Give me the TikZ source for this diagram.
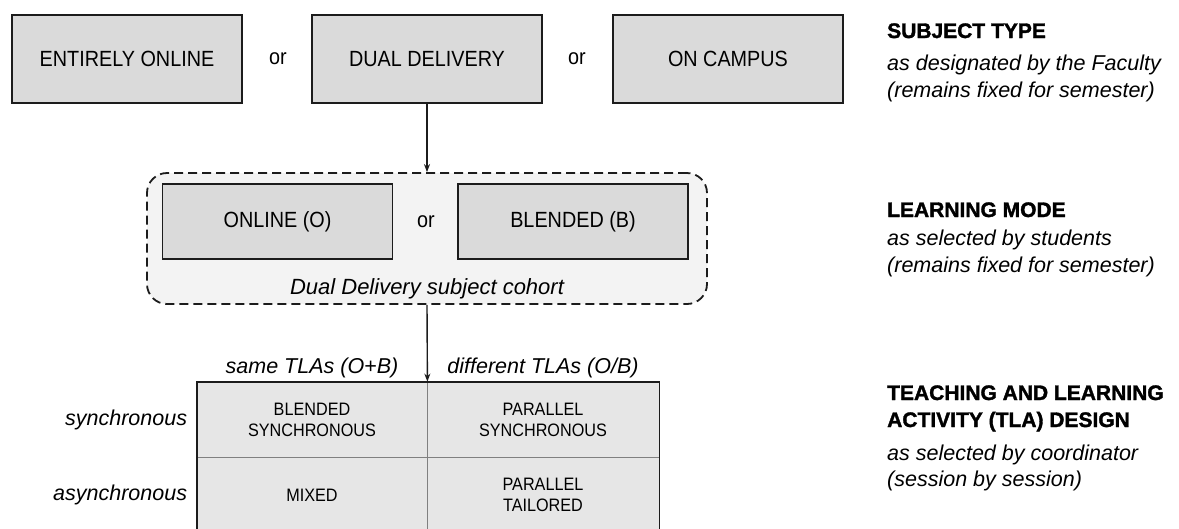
\documentclass[tikz,border=0pt]{standalone}
\usepackage{fontspec}
\setmainfont{Liberation Sans}
\newfontfamily\narrowfont{Liberation Sans}[FakeStretch=0.9]
\newfontfamily\headfont{Liberation Sans}[BoldFeatures={FakeBold=1.6}]
\usetikzlibrary{arrows.meta}
\usetikzlibrary{positioning}

\definecolor{boxgrey}{HTML}{DADADA}
\definecolor{cellgrey}{HTML}{E6E6E6}
\definecolor{cohortgrey}{HTML}{F3F3F3}
\definecolor{inkgrey}{HTML}{1C1C1C}

\begin{document}
\begin{tikzpicture}[x = 1pt, y = -1pt, >={Stealth[length=8pt, width=6pt]}]
	\tikzstyle{typeStyle} = [draw = inkgrey, line width = 1.8pt, fill = boxgrey, minimum width = 230pt, minimum height = 88pt, font = \narrowfont\fontsize{22}{26}\selectfont]
	\tikzstyle{modeStyle} = [typeStyle, minimum height = 75pt]
	\tikzstyle{cohortStyle} = [draw = inkgrey, line width = 1.8pt, dash pattern = on 9pt off 5pt, fill = cohortgrey, rounded corners = 20pt, minimum width = 560pt, minimum height = 131pt]
	\tikzstyle{cellStyle} = [draw = gray, line width = 0.8pt, fill = cellgrey, minimum height = 75pt, align = center, font = \narrowfont\fontsize{18}{21}\selectfont]
	\tikzstyle{orStyle} = [font = \narrowfont\fontsize{22}{26}\selectfont]
	\tikzstyle{sideStyle} = [font = \itshape\fontsize{21.5}{24}\selectfont]
	\tikzstyle{headStyle} = [anchor = base west, inner sep = 0pt, font = \headfont\bfseries\fontsize{21}{24}\selectfont]
	\tikzstyle{noteStyle} = [anchor = base west, inner sep = 0pt, font = \itshape\fontsize{21.5}{24}\selectfont]
	\useasboundingbox (0,0) rectangle (1179,528);
	\clip (0,0) rectangle (1179,528);
	% subject type
	\node[typeStyle] (online) at (127, 59) {ENTIRELY ONLINE};
	\node[typeStyle] (dual) at (427, 59) {DUAL DELIVERY};
	\node[typeStyle] (campus) at (728, 59) {ON CAMPUS};
	\node[orStyle] (or1) at (278, 59) {or};
	\node[orStyle] (or2) at (577, 59) {or};
	% learning mode
	\node[cohortStyle] (cohort) at (427, 238.5) {};
	\node[modeStyle] (modeO) at (277.5, 221.5) {ONLINE (O)};
	\node[modeStyle] (modeB) at (573, 221.5) {BLENDED (B)};
	\node[orStyle] (or3) at (426, 221.5) {or};
	\node[sideStyle, anchor = base, font = \itshape\fontsize{22}{24}\selectfont] (cohortlabel) at (427, 294) {Dual Delivery subject cohort};
	% TLA design
	\node[cellStyle, minimum width = 230pt] (blendsync) at (312, 419.5) {BLENDED\\SYNCHRONOUS};
	\node[cellStyle, minimum width = 232pt] (parsync) at (543, 419.5) {PARALLEL\\SYNCHRONOUS};
	\node[cellStyle, minimum width = 230pt, minimum height = 76pt] (mixed) at (312, 495) {MIXED};
	\node[cellStyle, minimum width = 232pt, minimum height = 76pt] (partail) at (543, 495) {PARALLEL\\TAILORED};
	\draw[inkgrey, line width = 1.8pt] (blendsync.north west) rectangle (partail.south east);
	\node[sideStyle, above = 0pt of blendsync] (samehead) {same TLAs (O+B)};
	\node[sideStyle, above = 0pt of parsync] (diffhead) {different TLAs (O/B)};
	\node[sideStyle, left = 6pt of blendsync] (synclabel) {synchronous};
	\node[sideStyle, left = 6pt of mixed] (asynclabel) {asynchronous};
	\draw[->, inkgrey, line width = 1.4pt] (dual.south) -- (cohort.north);
	\draw[->, inkgrey, line width = 1.4pt] (cohort.south) -- (blendsync.north east);
	% side notes
	\node[headStyle] (typehead) at (887, 38) {SUBJECT TYPE};
	\node[noteStyle] (typenoteA) at (887, 70) {as designated by the Faculty};
	\node[noteStyle] (typenoteB) at (887, 97) {(remains fixed for semester)};
	\node[headStyle] (modehead) at (887, 217) {LEARNING MODE};
	\node[noteStyle] (modenoteA) at (887, 245) {as selected by students};
	\node[noteStyle] (modenoteB) at (887, 272) {(remains fixed for semester)};
	\node[headStyle] (tlaheadA) at (887, 400) {TEACHING AND LEARNING};
	\node[headStyle] (tlaheadB) at (887, 427) {ACTIVITY (TLA) DESIGN};
	\node[noteStyle] (tlanoteA) at (887, 460) {as selected by coordinator};
	\node[noteStyle] (tlanoteB) at (887, 486) {(session by session)};
\end{tikzpicture}
\end{document}
